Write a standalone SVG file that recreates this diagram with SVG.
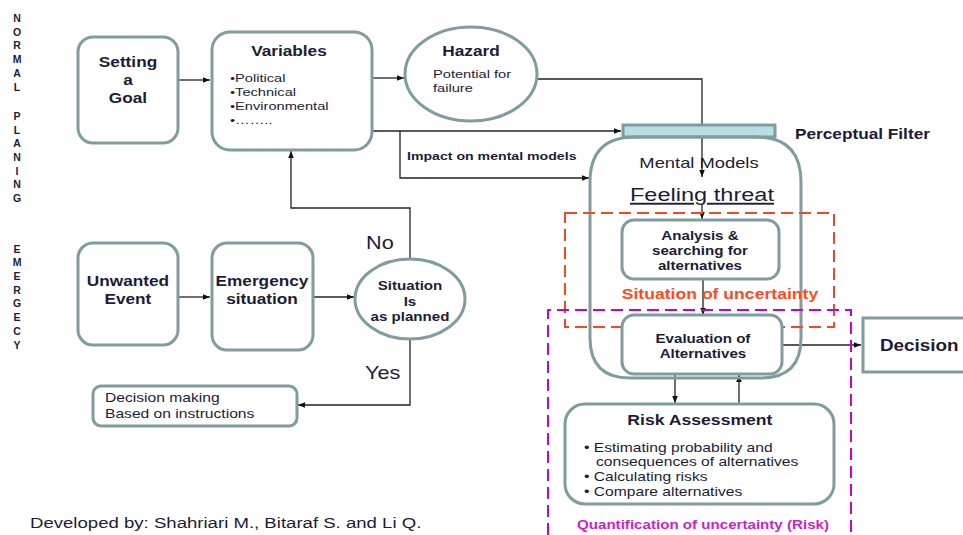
<svg xmlns="http://www.w3.org/2000/svg" width="963" height="535" viewBox="0 0 963 535">
<defs>
<marker id="ah" viewBox="0 0 10 10" refX="10" refY="5" markerWidth="7" markerHeight="7" orient="auto" markerUnits="userSpaceOnUse"><path d="M0,1 L10,5 L0,9 z" fill="#111"/></marker>
<style>
text{font-family:"Liberation Sans",Arial,sans-serif;fill:#1c1c38;transform-box:fill-box;transform:scaleX(1.24)}
.l{transform-origin:0% 50%}
.m{text-anchor:middle;transform-origin:50% 50%}
.b{font-weight:bold}
.box{fill:#fff;stroke:#7f9c9e;stroke-width:3}
text.side{font-size:10.5px;font-weight:bold;text-anchor:middle;transform:none}
.t14{font-size:13.9px;font-weight:bold}
.t12{font-size:11.8px}
.t15{font-size:12.6px}
.t12b{font-size:12.2px;font-weight:bold}
.ln{fill:none;stroke:#222;stroke-width:1.3}
</style>
</defs>
<rect width="963" height="535" fill="#fff"/>
<g id="sidelabels">
<text x="17" y="22" class="side">N</text><text x="17" y="36" class="side">O</text><text x="17" y="49" class="side">R</text><text x="17" y="63" class="side">M</text><text x="17" y="77" class="side">A</text><text x="17" y="91" class="side">L</text>
<text x="17" y="120" class="side">P</text><text x="17" y="134" class="side">L</text><text x="17" y="147" class="side">A</text><text x="17" y="161" class="side">N</text><text x="17" y="175" class="side">I</text><text x="17" y="188" class="side">N</text><text x="17" y="202" class="side">G</text>
<text x="17" y="253" class="side">E</text><text x="17" y="266" class="side">M</text><text x="17" y="280" class="side">E</text><text x="17" y="294" class="side">R</text><text x="17" y="307" class="side">G</text><text x="17" y="321" class="side">E</text><text x="17" y="335" class="side">C</text><text x="17" y="349" class="side">Y</text>
</g>
<g id="connectors">
<line class="ln" x1="178" y1="80" x2="210" y2="80" marker-end="url(#ah)"/>
<line class="ln" x1="372" y1="78" x2="404" y2="78" marker-end="url(#ah)"/>
<polyline class="ln" points="538,79 702,79 702,177" marker-end="url(#ah)"/>
<line class="ln" x1="372" y1="131" x2="621" y2="131" marker-end="url(#ah)"/>
<polyline class="ln" points="400,131 400,178 589,178" marker-end="url(#ah)"/>
<line class="ln" x1="702" y1="205" x2="702" y2="219" marker-end="url(#ah)"/>
<line class="ln" x1="703" y1="279" x2="703" y2="315" marker-end="url(#ah)"/>
<line class="ln" x1="782" y1="345" x2="861" y2="345" marker-end="url(#ah)"/>
<line class="ln" x1="675" y1="374" x2="675" y2="403" marker-end="url(#ah)"/>
<line class="ln" x1="739" y1="404" x2="739" y2="375" marker-end="url(#ah)"/>
<line class="ln" x1="178" y1="297" x2="210" y2="297" marker-end="url(#ah)"/>
<line class="ln" x1="313" y1="297" x2="354" y2="297" marker-end="url(#ah)"/>
<polyline class="ln" points="410,259 410,208 291,208 291,151" marker-end="url(#ah)"/>
<polyline class="ln" points="410,339 410,405 298,405" marker-end="url(#ah)"/>
</g>
<g id="goal"><rect class="box" x="78" y="37" width="100" height="106" rx="15"/>
<text class="t14 m" x="128" y="67">Setting</text><text class="t14 m" x="128" y="85">a</text><text class="t14 m" x="128" y="103">Goal</text></g>
<g id="variables"><rect class="box" x="212" y="32" width="160" height="118" rx="18"/>
<text class="t14 m" x="289" y="56">Variables</text>
<text class="t12 l" x="230" y="82">•Political</text><text class="t12 l" x="230" y="96">•Technical</text><text class="t12 l" x="230" y="110">•Environmental</text><text class="t12 l" x="230" y="124">•……..</text></g>
<g id="hazard"><ellipse class="box" cx="471" cy="74" rx="66" ry="47"/>
<text class="t14 m" x="471" y="56">Hazard</text><text class="t12 l" x="433" y="78">Potential for</text><text class="t12 l" x="433" y="92">failure</text></g>
<g id="impact"><text class="b l" x="407" y="160" style="font-size:11.4px">Impact on mental models</text></g>
<g id="filter"><rect x="623" y="125" width="152" height="12" fill="#b7dfe3" stroke="#7f9c9e" stroke-width="3"/>
<text class="b l" x="795" y="139" style="font-size:13.9px">Perceptual Filter</text></g>
<g id="mental"><path class="box" d="M590,338 L590,182 Q590,137 635,137 L756,137 Q801,137 801,182 L801,338 Q801,378 761,378 L630,378 Q590,378 590,338 Z" style="fill:none"/>
<text class="m" x="699" y="168" style="font-size:14.8px">Mental Models</text>
<text class="m" x="702" y="201" style="font-size:19px;text-decoration:underline">Feeling threat</text></g>
<g id="analysis"><rect class="box" x="622" y="220" width="157" height="59" rx="12"/>
<text class="t12b m" x="700" y="240">Analysis &amp;</text><text class="t12b m" x="700" y="255">searching for</text><text class="t12b m" x="700" y="270">alternatives</text></g>
<g id="uncertainty"><rect x="565" y="213" width="269" height="114" fill="none" stroke="#f04a23" stroke-width="2" stroke-dasharray="12,6"/>
<text class="m" x="720" y="299" style="font-size:14.2px;font-weight:bold;fill:#ff4a1c">Situation of uncertainty</text></g>
<g id="evaluation"><rect class="box" x="622" y="315" width="160" height="59" rx="12"/>
<text class="t12b m" x="703" y="343">Evaluation of</text><text class="t12b m" x="703" y="358">Alternatives</text></g>
<g id="quant"><polyline points="548,535 548,310 851,310 851,535" fill="none" stroke="#cc00cc" stroke-width="2" stroke-dasharray="12,6"/>
<text class="m" x="703" y="529" style="font-size:12.2px;font-weight:bold;fill:#cc22cc">Quantification of uncertainty (Risk)</text></g>
<g id="risk"><rect class="box" x="565" y="404" width="269" height="100" rx="20"/>
<text class="t14 m" x="700" y="425" style="font-size:14.2px">Risk Assessment</text>
<text class="t15 l" x="584" y="452">• Estimating probability and</text><text class="t15 l" x="596" y="466">consequences of alternatives</text><text class="t15 l" x="584" y="481">• Calculating risks</text><text class="t15 l" x="584" y="496">• Compare alternatives</text></g>
<g id="decision"><rect class="box" x="863" y="318" width="110" height="54"/>
<text class="b l" x="880" y="351" style="font-size:16px;transform:scaleX(1.18)">Decision</text></g>
<g id="unwanted"><rect class="box" x="78" y="243" width="100" height="102" rx="15"/>
<text class="t14 m" x="128" y="286">Unwanted</text><text class="t14 m" x="128" y="304">Event</text></g>
<g id="emergency"><rect class="box" x="212" y="243" width="101" height="107" rx="15"/>
<text class="t14 m" x="262" y="286">Emergency</text><text class="t14 m" x="262" y="304">situation</text></g>
<g id="situation"><ellipse class="box" cx="410" cy="299" rx="55" ry="40"/>
<text class="t12b m" x="410" y="290">Situation</text><text class="t12b m" x="410" y="306">Is</text><text class="t12b m" x="410" y="321">as planned</text></g>
<g id="labels">
<text class="l" x="366" y="249" style="font-size:17.5px">No</text>
<text class="l" x="365" y="379" style="font-size:17.5px">Yes</text>
</g>
<g id="dm"><rect class="box" x="93" y="386" width="204" height="40" rx="8"/>
<text class="t15 l" x="105" y="402">Decision making</text><text class="t15 l" x="105" y="418">Based on instructions</text></g>
<text class="l" x="30" y="528" style="font-size:15px">Developed by: Shahriari M., Bitaraf S. and Li Q.</text>
</svg>
